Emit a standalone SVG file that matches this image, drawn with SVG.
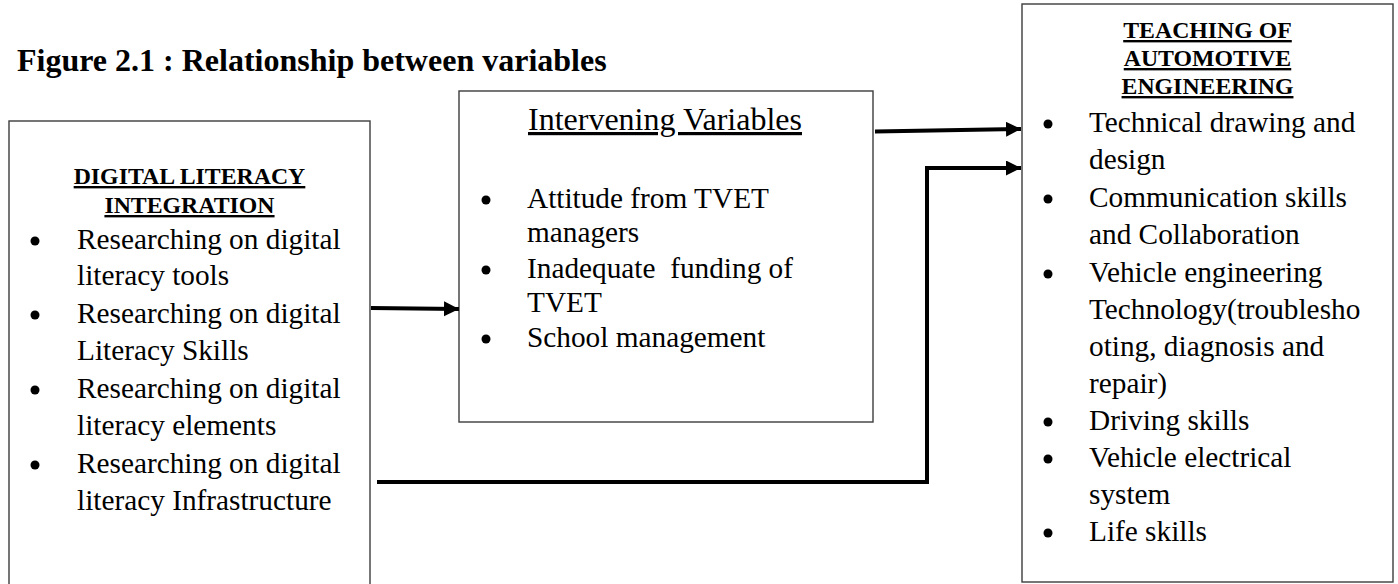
<svg xmlns="http://www.w3.org/2000/svg" width="1398" height="584" viewBox="0 0 1398 584">
  <style>
    .box { fill: #ffffff; stroke: #3c3c3c; stroke-width: 1.4; }
    .title { font-family: "Liberation Serif", "Times New Roman", serif; font-weight: bold; font-size: 32px; fill: #000; }
    .head { font-family: "Liberation Serif", "Times New Roman", serif; font-weight: bold; font-size: 23.8px; fill: #000; text-anchor: middle; text-decoration: underline; }
    .subhead { font-family: "Liberation Serif", "Times New Roman", serif; font-size: 32px; fill: #000; text-decoration: underline; }
    .item { font-family: "Liberation Serif", "Times New Roman", serif; font-size: 29.3px; fill: #000; white-space: pre; }
    .bullet { fill: #000; }
    .conn { fill: none; stroke: #000; stroke-width: 4; stroke-linejoin: miter; stroke-linecap: butt; }
  </style>
  <defs>
    <marker id="arrow" markerUnits="userSpaceOnUse" markerWidth="16" markerHeight="16" refX="15" refY="7.5" orient="auto">
      <path d="M0,0 L15,7.5 L0,15 Z" fill="#000"/>
    </marker>
  </defs>

  <rect width="1398" height="584" fill="#ffffff"/>

  <text class="title" x="17" y="71">Figure 2.1 : Relationship between variables</text>

  <!-- independent variable -->
  <g id="digital-literacy">
    <rect class="box" x="9" y="121" width="361" height="490"/>
    <text class="head" x="189.5" y="184">DIGITAL LITERACY</text>
    <text class="head" x="189.5" y="213">INTEGRATION</text>
    <circle class="bullet" cx="35" cy="241" r="4.5"/>
    <text class="item" x="77" y="249">Researching on digital</text>
    <text class="item" x="77" y="285">literacy tools</text>
    <circle class="bullet" cx="35" cy="315" r="4.5"/>
    <text class="item" x="77" y="323">Researching on digital</text>
    <text class="item" x="77" y="360">Literacy Skills</text>
    <circle class="bullet" cx="35" cy="390" r="4.5"/>
    <text class="item" x="77" y="398">Researching on digital</text>
    <text class="item" x="77" y="435">literacy elements</text>
    <circle class="bullet" cx="35" cy="465" r="4.5"/>
    <text class="item" x="77" y="473">Researching on digital</text>
    <text class="item" x="77" y="510">literacy Infrastructure</text>
  </g>

  <!-- intervening variables -->
  <g id="intervening">
    <rect class="box" x="459" y="91" width="414" height="331"/>
    <text class="subhead" x="528" y="130">Intervening Variables</text>
    <circle class="bullet" cx="486" cy="200" r="4.5"/>
    <text class="item" x="527" y="208">Attitude from TVET</text>
    <text class="item" x="527" y="242">managers</text>
    <circle class="bullet" cx="486" cy="270" r="4.5"/>
    <text class="item" x="527" y="278">Inadequate  funding of</text>
    <text class="item" x="527" y="312">TVET</text>
    <circle class="bullet" cx="486" cy="339" r="4.5"/>
    <text class="item" x="527" y="347">School management</text>
  </g>

  <!-- dependent variable -->
  <g id="automotive">
    <rect class="box" x="1022" y="4" width="371" height="578"/>
    <text class="head" x="1207.5" y="38">TEACHING OF</text>
    <text class="head" x="1207.5" y="66">AUTOMOTIVE</text>
    <text class="head" x="1207.5" y="94">ENGINEERING</text>
    <circle class="bullet" cx="1048" cy="124" r="4.5"/>
    <text class="item" x="1089" y="132">Technical drawing and</text>
    <text class="item" x="1089" y="169">design</text>
    <circle class="bullet" cx="1048" cy="199" r="4.5"/>
    <text class="item" x="1089" y="207">Communication skills</text>
    <text class="item" x="1089" y="244">and Collaboration</text>
    <circle class="bullet" cx="1048" cy="274" r="4.5"/>
    <text class="item" x="1089" y="282">Vehicle engineering</text>
    <text class="item" x="1089" y="319">Technology(troublesho</text>
    <text class="item" x="1089" y="356">oting, diagnosis and</text>
    <text class="item" x="1089" y="393">repair)</text>
    <circle class="bullet" cx="1048" cy="422" r="4.5"/>
    <text class="item" x="1089" y="430">Driving skills</text>
    <circle class="bullet" cx="1048" cy="459" r="4.5"/>
    <text class="item" x="1089" y="467">Vehicle electrical</text>
    <text class="item" x="1089" y="504">system</text>
    <circle class="bullet" cx="1048" cy="533" r="4.5"/>
    <text class="item" x="1089" y="541">Life skills</text>
  </g>

  <!-- connectors -->
  <g id="connectors">
    <path class="conn" d="M371,308 L459,309" marker-end="url(#arrow)"/>
    <path class="conn" d="M875,131.5 L1021,129" marker-end="url(#arrow)"/>
    <path class="conn" d="M377,482 L927,482 L927,168 L1021,168" marker-end="url(#arrow)"/>
  </g>
</svg>
